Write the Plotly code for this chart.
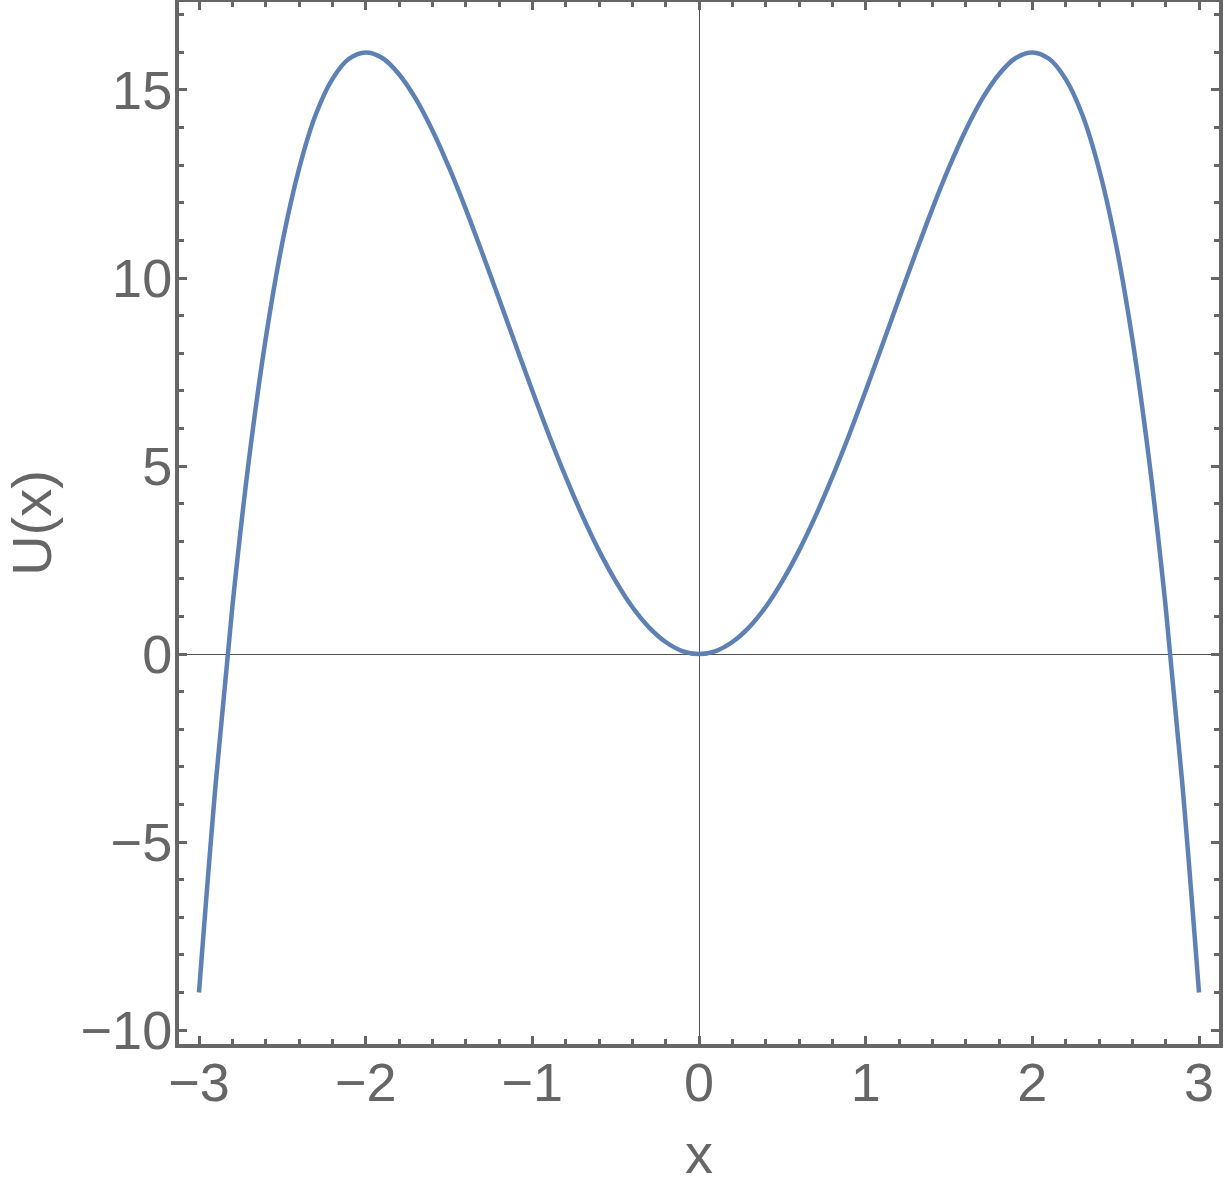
import plotly.graph_objects as go

x_vals = [-3.0, -2.9, -2.8, -2.7, -2.6, -2.5, -2.4, -2.3, -2.2, -2.1,
          -2.0, -1.9, -1.8, -1.7, -1.6, -1.5, -1.4, -1.3, -1.2, -1.1,
          -1.0, -0.9, -0.8, -0.7, -0.6, -0.5, -0.4, -0.3, -0.2, -0.1,
          0.0, 0.1, 0.2, 0.3, 0.4, 0.5, 0.6, 0.7, 0.8, 0.9,
          1.0, 1.1, 1.2, 1.3, 1.4, 1.5, 1.6, 1.7, 1.8, 1.9,
          2.0, 2.1, 2.2, 2.3, 2.4, 2.5, 2.6, 2.7, 2.8, 2.9, 3.0]
u_vals = [-9.0, -3.45, 1.25, 5.18, 8.38, 10.94, 12.90, 14.34, 15.29, 15.83,
          16.0, 15.85, 15.42, 14.77, 13.93, 12.94, 11.84, 10.66, 9.45, 8.22,
          7.0, 5.82, 4.71, 3.68, 2.75, 1.94, 1.25, 0.71, 0.32, 0.08,
          0.0, 0.08, 0.32, 0.71, 1.25, 1.94, 2.75, 3.68, 4.71, 5.82,
          7.0, 8.22, 9.45, 10.66, 11.84, 12.94, 13.93, 14.77, 15.42, 15.85,
          16.0, 15.83, 15.29, 14.34, 12.90, 10.94, 8.38, 5.18, 1.25, -3.45, -9.0]

x_ticks = [-3, -2, -1, 0, 1, 2, 3]
y_ticks = [-10, -5, 0, 5, 10, 15]

GRAY = "#666666"
FONT = "Liberation Sans"

fig = go.Figure()
fig.add_trace(go.Scatter(
    x=x_vals, y=u_vals, mode="lines",
    line=dict(color="#5E81B5", width=4.5, shape="spline", smoothing=1.0),
    showlegend=False, hoverinfo="skip",
))

axis_common = dict(
    showgrid=False,
    showline=True, linecolor=GRAY, linewidth=4, mirror="allticks",
    ticks="inside", ticklen=8, tickwidth=3, tickcolor=GRAY,
    tickfont=dict(family=FONT, size=54, color=GRAY),
    zeroline=True, zerolinecolor="#555555", zerolinewidth=1,
    minor=dict(ticks="inside", ticklen=5, tickwidth=3, tickcolor=GRAY),
)

fig.update_xaxes(
    **axis_common,
    range=[-3.12, 3.12],
    tickvals=x_ticks,
    ticklabelstandoff=-12,
    title=dict(text="x", font=dict(family=FONT, size=56, color=GRAY), standoff=24),
)
fig.update_xaxes(minor=dict(dtick=0.2, tick0=0))
fig.update_yaxes(
    **axis_common,
    range=[-10.37, 17.34],
    tickvals=y_ticks,
    ticklabelstandoff=-8,
    title=dict(text="U(x)", font=dict(family=FONT, size=56, color=GRAY), standoff=36),
)
fig.update_yaxes(minor=dict(dtick=1, tick0=0))

fig.update_layout(
    width=1224, height=1192,
    margin=dict(l=179, r=5, t=2, b=148, autoexpand=False),
    plot_bgcolor="white", paper_bgcolor="white",
)

fig.write_html("out.html", config={"displayModeBar": False},
               post_script="document.body.style.margin='0';")
